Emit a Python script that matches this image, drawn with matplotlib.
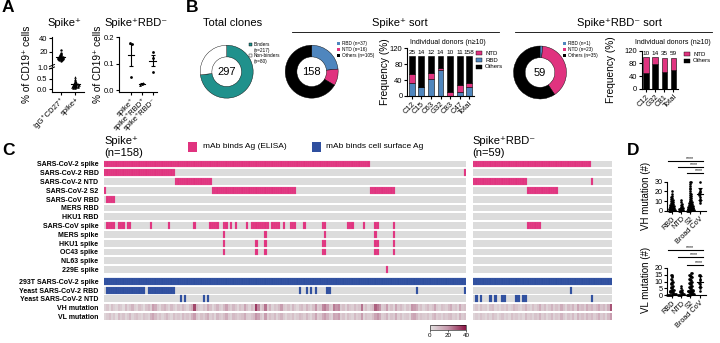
import matplotlib
matplotlib.use('Agg')
import matplotlib.pyplot as plt
import numpy as np
from matplotlib.patches import Rectangle
from matplotlib.lines import Line2D
from matplotlib.colors import LinearSegmentedColormap, Normalize
from matplotlib.cm import ScalarMappable

plt.rcParams['font.family'] = ['Liberation Sans', 'DejaVu Sans']

# ---------------- data ----------------
# A: % of CD19+ cells
igg_cd27 = [6.5, 7.5, 8, 8.5, 9, 9, 9.5, 10, 10, 10.5, 10.5, 11, 11, 11.5, 12, 12,
            12.5, 13, 13.5, 14, 15, 16, 17.5, 19, 22]
spike_pos = [0.04, 0.06, 0.08, 0.09, 0.1, 0.11, 0.12, 0.13, 0.14, 0.15, 0.15, 0.16,
             0.17, 0.18, 0.19, 0.2, 0.21, 0.22, 0.24, 0.25, 0.27, 0.3, 0.32, 0.35,
             0.4, 0.45, 0.5, 0.55]
sort_groups = ['spike⁺', 'spike⁺RBD⁺', 'spike⁺RBD⁻']
sort_vals = [[0.176, 0.172, 0.048], [0.02, 0.024, 0.027], [0.142, 0.12, 0.069]]

# B: clone counts
total_labels = ['Binders\n(n=217)', 'Non-binders\n(n=80)']
total_counts = [217, 80]
spike_counts = [37, 16, 105]     # RBD, NTD, Others
spike_rbdneg_counts = [1, 23, 35]
donors1 = ['C12', 'C15', 'C63', 'G32', 'C83', 'C47', 'Total']
donors1_n = [25, 14, 12, 14, 10, 11, 158]
donors1_rbd = [32, 21.4, 41.7, 64.3, 0, 9.1, 23.4]
donors1_ntd = [24, 0, 16.7, 7.1, 10, 18.2, 10.1]
donors2 = ['C12', 'G32', 'C81', 'Total']
donors2_n = [10, 14, 35, 59]
donors2_others = [50, 78.6, 54.3, 59.3]
donors2_ntd = [50, 21.4, 42.9, 39]

# C: binding map (column ranges [start, end))
rows_elisa = ['SARS-CoV-2 spike', 'SARS-CoV-2 RBD', 'SARS-CoV-2 NTD', 'SARS-CoV-2 S2',
              'SARS-CoV RBD', 'MERS RBD', 'HKU1 RBD', 'SARS-CoV spike', 'MERS spike',
              'HKU1 spike', 'OC43 spike', 'NL63 spike', '229E spike']
rows_cell = ['293T SARS-CoV-2 spike', 'Yeast SARS-CoV-2 RBD', 'Yeast SARS-CoV-2 NTD']
rows_mut = ['VH mutation', 'VL mutation']

elisa_158 = [
    [(0, 116)],
    [(0, 31), (157, 158)],
    [(31, 47)],
    [(0, 1), (47, 84), (116, 127)],
    [(1, 5)],
    [],
    [],
    [(1, 5), (6, 9), (10, 12), (20, 21), (28, 29), (39, 40), (46, 50), (52, 54), (55, 56),
     (57, 58), (62, 63), (64, 72), (73, 77), (78, 79), (81, 84), (87, 88), (95, 97),
     (106, 109), (113, 114), (118, 120), (126, 127)],
    [(52, 53), (70, 71), (96, 97), (118, 119), (126, 127)],
    [(52, 53), (66, 67), (70, 71), (95, 97), (118, 120), (126, 127)],
    [(52, 53), (66, 67), (70, 71), (95, 97), (118, 120), (126, 127)],
    [],
    [(123, 124)],
]
cell_158 = [
    [(0, 158)],
    [(1, 18), (19, 31), (85, 86), (88, 89), (90, 91), (92, 93), (97, 99), (136, 137), (157, 158)],
    [(33, 34), (35, 36), (43, 44), (45, 46)],
]
elisa_59 = [
    [(0, 50)], [], [(0, 23), (50, 51)], [(23, 36)], [], [], [], [(23, 29)], [], [], [], [], [],
]
cell_59 = [
    [(0, 59)],
    [(41, 42)],
    [(1, 2), (3, 4), (7, 8), (9, 10), (12, 14), (18, 20), (21, 23), (50, 51)],
]
vh_158 = [4, 7, 2, 9, 5, 3, 8, 6, 2, 10, 4, 7, 12, 5, 3, 9, 6, 2, 8, 11,
          5, 18, 14, 6, 3, 9, 12, 7, 4, 10, 6, 3, 8, 5, 11, 7, 4, 9, 14, 32,
          10, 6, 4, 8, 5, 15, 9, 3, 7, 12, 6, 4, 10, 17, 8, 5, 11, 7, 3, 9,
          6, 16, 8, 4, 10, 7, 34, 22, 5, 9, 25, 6, 12, 4, 8, 6, 10, 18, 7, 5,
          9, 4, 11, 6, 3, 8, 10, 5, 12, 7, 4, 9, 20, 6, 8, 22, 24, 18, 7, 5,
          24, 20, 22, 6, 9, 4, 11, 7, 5, 10, 6, 8, 25, 5, 9, 4, 7, 10, 28, 24,
          20, 6, 8, 18, 5, 9, 4, 16, 7, 10, 6, 3, 8, 5, 20, 18, 14, 6, 9, 4,
          7, 10, 5, 8, 16, 6, 4, 9, 7, 5, 10, 14, 6, 8, 4, 15, 7, 9]
vl_158 = [3, 6, 9, 4, 7, 2, 10, 5, 8, 3, 6, 11, 4, 7, 9, 5, 3, 8, 6, 4,
          12, 16, 10, 5, 8, 4, 7, 11, 6, 3, 9, 5, 7, 4, 10, 6, 8, 5, 12, 18,
          7, 4, 9, 6, 10, 14, 5, 8, 3, 11, 7, 5, 9, 14, 6, 4, 10, 8, 5, 7,
          9, 14, 6, 5, 8, 10, 20, 16, 7, 4, 18, 5, 9, 6, 10, 4, 8, 12, 6, 3,
          7, 5, 9, 4, 6, 10, 8, 5, 11, 6, 3, 8, 16, 5, 7, 14, 18, 12, 6, 4,
          16, 14, 18, 5, 8, 3, 9, 6, 4, 10, 5, 7, 18, 4, 8, 6, 5, 9, 16, 20,
          14, 5, 7, 12, 4, 8, 6, 14, 5, 9, 4, 6, 7, 3, 14, 16, 10, 5, 8, 6,
          5, 8, 4, 9, 12, 5, 7, 4, 8, 6, 9, 10, 5, 7, 3, 12, 6, 8]
vh_59 = [4, 7, 3, 9, 5, 6, 2, 8, 10, 4, 6, 3, 7, 5, 9, 4, 6, 11, 8, 5, 3, 7, 12, 6, 4,
         9, 5, 8, 14, 6, 10, 4, 7, 12, 5, 9, 6, 14, 8, 4, 10, 7, 12, 5, 16, 8, 10, 6,
         14, 9, 12, 7, 10, 15, 8, 11, 6, 13, 30]
vl_59 = [3, 6, 4, 8, 5, 3, 7, 4, 9, 6, 2, 5, 8, 4, 6, 3, 9, 5, 7, 4, 6, 3, 10, 5, 7,
         4, 8, 6, 12, 5, 8, 3, 6, 10, 4, 7, 5, 12, 6, 3, 8, 5, 10, 4, 12, 6, 9, 5, 11,
         7, 10, 5, 8, 13, 6, 9, 4, 10, 18]

# D: mutations per group
mut_groups = ['RBD', 'NTD', 'S2', 'Broad CoV']
vh_rbd = [0, 0, 0, 0, 1, 1, 1, 1, 2, 2, 2, 2, 3, 3, 3, 4, 4, 4, 5, 5, 5, 6, 6, 7, 7, 8, 8,
          9, 10, 10, 11, 12, 13, 14, 15, 17, 20]
vh_ntd = [0, 0, 1, 1, 1, 2, 2, 3, 3, 3, 4, 5, 6, 7, 9, 11]
vh_s2 = [0, 0, 0, 0, 1, 1, 1, 1, 1, 2, 2, 2, 2, 3, 3, 3, 3, 4, 4, 4, 5, 5, 5, 6, 6, 7, 7,
         8, 8, 9, 9, 10, 10, 11, 12, 13, 14, 15, 16, 17, 18, 20, 22, 24, 26, 28, 30, 30]
vh_broad = [8, 10, 12, 14, 16, 17, 18, 19, 20, 22, 30]
vl_rbd = [0, 0, 0, 0, 0, 0, 1, 1, 1, 1, 1, 2, 2, 2, 2, 3, 3, 3, 4, 4, 4, 5, 5, 6, 6, 7, 8,
          8, 9, 10, 10, 11, 12, 13, 14, 15, 15]
vl_ntd = [0, 0, 0, 0, 1, 1, 1, 1, 2, 2, 2, 3, 3, 4, 5, 7]
vl_s2 = [0, 0, 0, 0, 0, 1, 1, 1, 1, 1, 2, 2, 2, 2, 3, 3, 3, 3, 4, 4, 4, 5, 5, 5, 6, 6, 7, 7,
         8, 8, 9, 9, 10, 10, 11, 11, 12, 12, 13, 13, 14, 14, 15, 15, 16, 16, 3, 2]
vl_broad = [3, 5, 7, 8, 9, 10, 11, 12, 14, 15, 15]

# ---------------- style ----------------
PINK = '#e0337f'
BLUE_D = '#4f86be'
BLUE_C = '#2f4f9f'
TEAL = '#20918c'
GREY = '#dcdcdc'
mut_cmap = LinearSegmentedColormap.from_list('mut', ['#e4e2e2', '#c596aa', '#8b1444'])

W, H = 720, 343
fig = plt.figure(figsize=(7.2, 3.43), dpi=100)


def box(x0, y0, x1, y1):
    return [x0 / W, 1 - y1 / H, (x1 - x0) / W, (y1 - y0) / H]


def ftext(x, y, s, **kw):
    fig.text(x / W, 1 - y / H, s, **kw)


def frect(x0, y0, x1, y1, **kw):
    fig.add_artist(Rectangle((x0 / W, 1 - y1 / H), (x1 - x0) / W, (y1 - y0) / H,
                             transform=fig.transFigure, **kw))


def fline(x0, y0, x1, y1, **kw):
    fig.add_artist(Line2D([x0 / W, x1 / W], [1 - y0 / H, 1 - y1 / H],
                          transform=fig.transFigure, **kw))


def prism(ax, size=5.5):
    for s in ['top', 'right']:
        ax.spines[s].set_visible(False)
    for s in ['left', 'bottom']:
        ax.spines[s].set_linewidth(0.8)
    ax.tick_params(width=0.8, length=2, labelsize=size, pad=1.2)


def swarm(vals, step, bin_w):
    vals = np.asarray(vals, float)
    offs = np.zeros(len(vals))
    bins = np.floor(vals / bin_w)
    for b in np.unique(bins):
        idx = np.where(bins == b)[0]
        k = len(idx)
        offs[idx] = (np.arange(k) - (k - 1) / 2) * step
    return offs


def mean_bar(ax, x, vals, half=0.25, err='sem', lw=0.8):
    v = np.asarray(vals, float)
    m = v.mean()
    e = v.std(ddof=1) / np.sqrt(len(v)) if err == 'sem' else v.std(ddof=1)
    ax.plot([x - half, x + half], [m, m], color='k', lw=lw, clip_on=False)
    ax.errorbar([x], [m], yerr=[e], color='k', lw=lw, capsize=1.5, capthick=lw, clip_on=False)


# ---------------- panel letters ----------------
for lx, ly, letter in [(2, 0, 'A'), (186, 0, 'B'), (2, 143, 'C'), (627, 143, 'D')]:
    ftext(lx, ly, letter, fontsize=12.5, fontweight='bold', va='top')

# ---------------- A ----------------
ftext(64, 23, 'Spike⁺', fontsize=8, ha='center', va='center')
ftext(136, 23, 'Spike⁺RBD⁻', fontsize=8, ha='center', va='center')
ftext(27, 64, '% of CD19⁺ cells', fontsize=7.3, rotation=90, ha='center', va='center')
ftext(98, 64, '% of CD19⁺ cells', fontsize=7.3, rotation=90, ha='center', va='center')

ax_up = fig.add_axes(box(52, 37, 84, 66))
ax_lo = fig.add_axes(box(52, 68, 84, 92))
for ax in (ax_up, ax_lo):
    prism(ax)
    ax.set_xlim(-0.6, 1.6)
ax_up.spines['bottom'].set_visible(False)
ax_up.set_xticks([])
ax_up.set_ylim(-1, 42)
ax_up.set_yticks([20, 40])
ax_lo.set_ylim(-0.14, 1.0)
ax_lo.set_yticks([0, 0.5, 1.0])
ax_lo.set_yticklabels(['0.0', '0.5', '1.0'])
ax_up.scatter(swarm(igg_cd27, 0.09, 1.5), igg_cd27, s=3, c='k', lw=0, clip_on=False)
mean_bar(ax_up, 0, igg_cd27, half=0.3)
ax_lo.scatter(1 + swarm(spike_pos, 0.08, 0.06), spike_pos, s=3.5, c='k', marker='^', lw=0)
mean_bar(ax_lo, 1, spike_pos, half=0.3)
ax_lo.set_xticks([0, 1])
ax_lo.set_xticklabels(['IgG⁺CD27⁺', 'spike+'], rotation=45, ha='right', rotation_mode='anchor')
fline(49.5, 66.5, 54.5, 64.5, color='k', lw=0.7)
fline(49.5, 69, 54.5, 67, color='k', lw=0.7)

axr = fig.add_axes(box(119, 37, 157, 92))
prism(axr)
axr.set_xlim(-1.1, 2.4)
axr.set_ylim(-0.0075, 0.2)
axr.set_yticks([0, 0.1, 0.2])
axr.set_yticklabels(['0.0', '0.1', '0.2'])
for i, (vals, mk) in enumerate(zip(sort_vals, ['o', '^', 'o'])):
    axr.scatter(i + swarm(vals, 0.12, 0.01), vals, s=4, c='k', marker=mk, lw=0)
    mean_bar(axr, i, vals, half=0.3)
axr.set_xticks(range(3))
axr.set_xticklabels(sort_groups, rotation=45, ha='right', rotation_mode='anchor')

# ---------------- B ----------------
ftext(233, 23, 'Total clones', fontsize=8, ha='center', va='center')
ftext(400, 23, 'Spike⁺ sort', fontsize=8, ha='center', va='center')
ftext(619, 23, 'Spike⁺RBD⁻ sort', fontsize=8, ha='center', va='center')
fline(292, 31.5, 499, 31.5, color='k', lw=0.6)
fline(515, 31.5, 712, 31.5, color='k', lw=0.6)


def donut(rect, counts, colors, center):
    ax = fig.add_axes(box(*rect))
    ax.pie(counts, colors=colors, startangle=90, counterclock=False, radius=1,
           wedgeprops=dict(width=0.44, edgecolor='k', linewidth=0.3))
    ax.set_xlim(-1.02, 1.02)
    ax.set_ylim(-1.02, 1.02)
    ax.set_aspect('equal')
    ax.text(0, 0, center, fontsize=8, ha='center', va='center')
    ax.axis('off')


donut((199.7, 44.7, 253.7, 98.7), total_counts, [TEAL, 'white'], str(sum(total_counts)))
donut((284.7, 44.7, 338.7, 98.7), spike_counts, [BLUE_D, PINK, 'black'], str(sum(spike_counts)))
donut((513, 45.5, 567, 99.5), spike_rbdneg_counts, [BLUE_D, PINK, 'black'],
      str(sum(spike_rbdneg_counts)))

for i, (lab, col) in enumerate(zip(total_labels, [TEAL, 'white'])):
    y = 42.5 + 11 * i
    frect(249, y, 252, y + 3, facecolor=col, edgecolor='k', lw=0.3)
    ftext(253.5, y - 0.8, lab, fontsize=3.4, va='top', linespacing=1.25)
for lx, counts in [(337, spike_counts), (563, spike_rbdneg_counts)]:
    for i, (name, c, col) in enumerate(zip(['RBD', 'NTD', 'Others'], counts,
                                            [BLUE_D, PINK, 'black'])):
        y = 42 + 6.2 * i
        frect(lx, y, lx + 3, y + 3, facecolor=col, edgecolor='none')
        ftext(lx + 4.5, y + 1.5, f'{name} (n={c})', fontsize=3.4, va='center')

# stacked bars, Spike+ sort
axb1 = fig.add_axes(box(407, 48.3, 474, 96))
prism(axb1)
x1 = np.arange(len(donors1))
others1 = [100 - r - n for r, n in zip(donors1_rbd, donors1_ntd)]
axb1.bar(x1, donors1_rbd, width=0.62, color=BLUE_D, edgecolor='k', lw=0.4)
axb1.bar(x1, donors1_ntd, width=0.62, bottom=donors1_rbd, color=PINK, edgecolor='k', lw=0.4)
axb1.bar(x1, others1, width=0.62, bottom=np.add(donors1_rbd, donors1_ntd), color='black',
         edgecolor='k', lw=0.4)
for xi, n in zip(x1, donors1_n):
    axb1.text(xi, 102, str(n), fontsize=4.6, ha='center', va='bottom')
axb1.set_xlim(-0.5, 6.5)
axb1.set_ylim(0, 120)
axb1.set_yticks([0, 40, 80, 120])
axb1.set_xticks(x1)
axb1.set_xticklabels(donors1, rotation=45, ha='right', rotation_mode='anchor')
ftext(448, 42.5, 'Individual donors (n≥10)', fontsize=5, ha='center', va='center')
ftext(385, 72, 'Frequency (%)', fontsize=7.3, rotation=90, ha='center', va='center')
for i, (name, col) in enumerate(zip(['NTD', 'RBD', 'Others'], [PINK, BLUE_D, 'black'])):
    y = 53.3 + 6.8 * i
    frect(476, y - 1.8, 482, y + 1.8, facecolor=col, edgecolor='k', lw=0.3)
    ftext(485, y, name, fontsize=4.3, va='center')

# stacked bars, Spike+RBD- sort
axb2 = fig.add_axes(box(641.7, 50.7, 678, 88.7))
prism(axb2)
x2 = np.arange(len(donors2))
axb2.bar(x2, donors2_others, width=0.62, color='black', edgecolor='k', lw=0.4)
axb2.bar(x2, donors2_ntd, width=0.62, bottom=donors2_others, color=PINK, edgecolor='k', lw=0.4)
for xi, n in zip(x2, donors2_n):
    axb2.text(xi, 102, str(n), fontsize=4.6, ha='center', va='bottom')
axb2.set_xlim(-0.5, 3.5)
axb2.set_ylim(0, 120)
axb2.set_yticks([0, 40, 80, 120])
axb2.set_xticks(x2)
axb2.set_xticklabels(donors2, rotation=45, ha='right', rotation_mode='anchor')
ftext(673, 43, 'Individual donors (n≥10)', fontsize=5, ha='center', va='center')
ftext(611, 70, 'Frequency (%)', fontsize=7.3, rotation=90, ha='center', va='center')
for i, (name, col) in enumerate(zip(['NTD', 'Others'], [PINK, 'black'])):
    y = 54 + 6.7 * i
    frect(684, y - 1.8, 690, y + 1.8, facecolor=col, edgecolor='k', lw=0.3)
    ftext(693, y, name, fontsize=4.3, va='center')

# ---------------- C ----------------
all_rows = rows_elisa + rows_cell + rows_mut
yc = np.array([i + (0.33 if i >= len(rows_elisa) else 0) for i in range(len(all_rows))])
hh = 0.78


def binding_map(rect, n, elisa, cell, vh, vl, labels):
    ax = fig.add_axes(box(*rect))
    for i, segs in enumerate(elisa + cell):
        col = PINK if i < len(elisa) else BLUE_C
        edge = '#e8609a' if i < len(elisa) else '#4563ad'
        ax.bar(0, hh, bottom=yc[i] - hh / 2, width=n, align='edge', color=GREY, lw=0)
        cols = [c for s, e in segs for c in range(s, e)]
        ax.bar(cols, hh, bottom=yc[i] - hh / 2, width=1, align='edge', color=col,
               edgecolor=edge, lw=0.15)
    for j, vals in enumerate([vh, vl]):
        r = len(elisa) + len(cell) + j
        ax.imshow(np.array(vals, float)[None, :], cmap=mut_cmap, vmin=0, vmax=40,
                  aspect='auto', interpolation='nearest',
                  extent=(0, n, yc[r] + hh / 2, yc[r] - hh / 2))
    ax.set_xlim(0, n)
    ax.set_ylim(yc[-1] + 0.5, -0.5)
    ax.set_xticks([])
    ax.set_yticks(yc)
    if labels:
        ax.set_yticklabels(all_rows, fontsize=5, fontweight='bold')
    else:
        ax.set_yticklabels([])
    ax.tick_params(length=0, pad=4)
    for s in ax.spines.values():
        s.set_visible(False)
    return ax


binding_map((104, 159.6, 466, 320.9), 158, elisa_158, cell_158, vh_158, vl_158, True)
binding_map((473, 159.6, 612, 320.9), 59, elisa_59, cell_59, vh_59, vl_59, False)

ftext(104, 141, 'Spike⁺', fontsize=8, va='center')
ftext(104, 153, '(n=158)', fontsize=8, va='center')
ftext(472, 141, 'Spike⁺RBD⁻', fontsize=8, va='center')
ftext(472, 153, '(n=59)', fontsize=8, va='center')
frect(188.3, 141.7, 196.7, 151.7, facecolor=PINK, edgecolor='none')
ftext(203, 147, 'mAb binds Ag (ELISA)', fontsize=6, va='center')
frect(311.7, 141.7, 320.7, 151.7, facecolor=BLUE_C, edgecolor='none')
ftext(326, 147, 'mAb binds cell surface Ag', fontsize=6, va='center')

cax = fig.add_axes(box(430, 324.5, 466, 330))
cb = fig.colorbar(ScalarMappable(norm=Normalize(0, 40), cmap=mut_cmap), cax=cax,
                  orientation='horizontal', ticks=[0, 20, 40])
cb.outline.set_linewidth(0.4)
cax.tick_params(labelsize=4.5, length=1.5, width=0.4, pad=1)

# ---------------- D ----------------
ftext(646, 196, 'VH mutation (#)', fontsize=7, rotation=90, ha='center', va='center')
ftext(646, 280, 'VL mutation (#)', fontsize=7, rotation=90, ha='center', va='center')


def mut_panel(rect, groups, ymax, yticks, sig_y, bin_w):
    ax = fig.add_axes(box(*rect))
    prism(ax, 5.2)
    for i, vals in enumerate(groups):
        ax.scatter(i + swarm(vals, 0.09, bin_w), vals, s=3.5, c='k', lw=0, clip_on=False)
    mean_bar(ax, len(groups) - 1, groups[-1], half=0.3, err='sd')
    ax.set_xlim(-0.5, 3.6)
    ax.set_ylim(0, ymax)
    ax.set_yticks(yticks)
    ax.set_xticks(range(len(mut_groups)))
    ax.set_xticklabels(mut_groups, rotation=45, ha='right', rotation_mode='anchor')
    for x0, y in zip([0, 1, 2], sig_y):
        ax.plot([x0 - 0.35, 3.3], [y, y], color='k', lw=0.8, clip_on=False)
        ax.text((x0 + 3) / 2 + 0.4, y, '****', fontsize=3.8, ha='center', va='bottom')
    return ax


mut_panel((667, 181.7, 705.5, 210.7), [vh_rbd, vh_ntd, vh_s2, vh_broad], 30,
          [0, 10, 20, 30], [51.7, 45.5, 38.7], 2)
mut_panel((667, 268, 705.5, 295), [vl_rbd, vl_ntd, vl_s2, vl_broad], 20,
          [0, 5, 10, 15, 20], [33.3, 27.9, 22.2], 1.5)

fig.savefig('out.png', dpi=100)
